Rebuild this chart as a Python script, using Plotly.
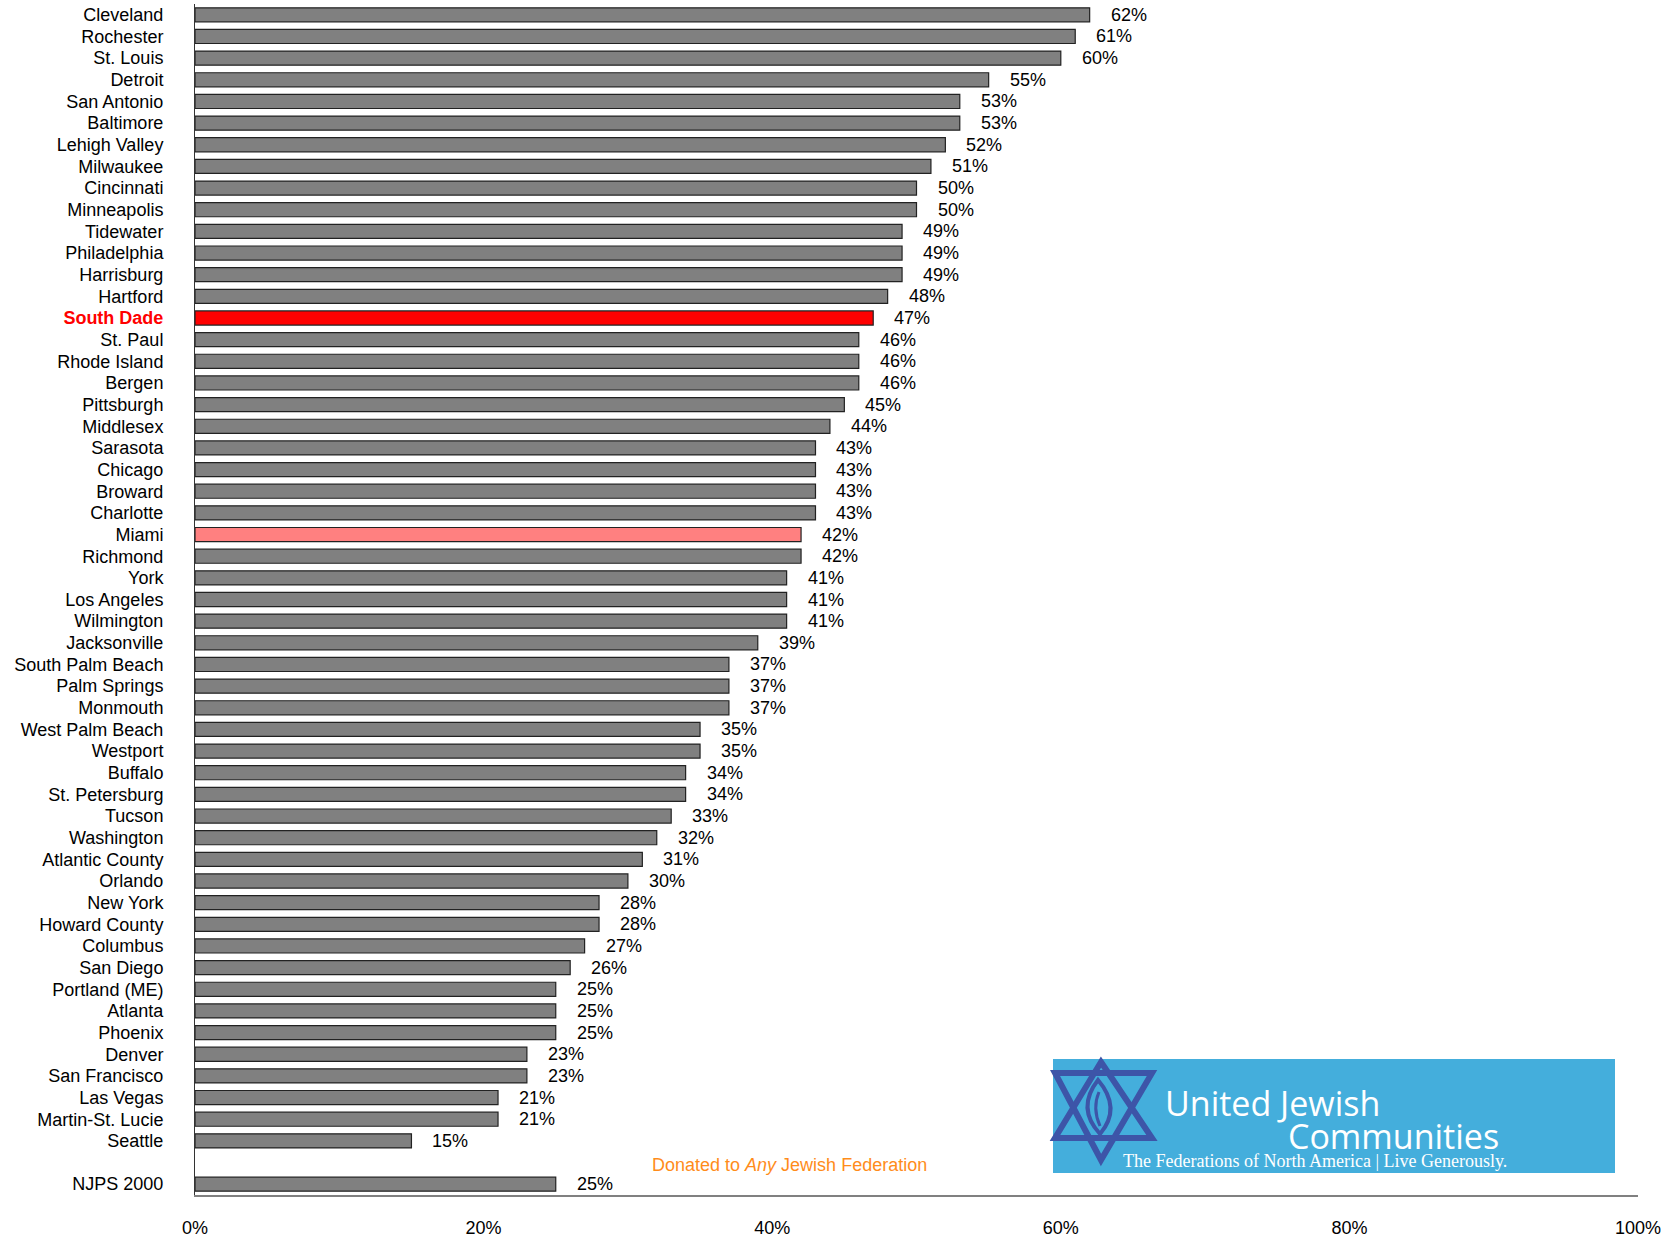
import plotly.graph_objects as go

# ---- data ----
cities = ["Cleveland", "Rochester", "St. Louis", "Detroit", "San Antonio", "Baltimore",
          "Lehigh Valley", "Milwaukee", "Cincinnati", "Minneapolis", "Tidewater",
          "Philadelphia", "Harrisburg", "Hartford", "South Dade", "St. Paul",
          "Rhode Island", "Bergen", "Pittsburgh", "Middlesex", "Sarasota", "Chicago",
          "Broward", "Charlotte", "Miami", "Richmond", "York", "Los Angeles",
          "Wilmington", "Jacksonville", "South Palm Beach", "Palm Springs", "Monmouth",
          "West Palm Beach", "Westport", "Buffalo", "St. Petersburg", "Tucson",
          "Washington", "Atlantic County", "Orlando", "New York", "Howard County",
          "Columbus", "San Diego", "Portland (ME)", "Atlanta", "Phoenix", "Denver",
          "San Francisco", "Las Vegas", "Martin-St. Lucie", "Seattle", " ", "NJPS 2000"]
values = [62, 61, 60, 55, 53, 53, 52, 51, 50, 50, 49, 49, 49, 48, 47, 46, 46, 46, 45, 44,
          43, 43, 43, 43, 42, 42, 41, 41, 41, 39, 37, 37, 37, 35, 35, 34, 34, 33, 32, 31,
          30, 28, 28, 27, 26, 25, 25, 25, 23, 23, 21, 21, 15, None, 25]
x_ticks = [0, 0.2, 0.4, 0.6, 0.8, 1.0]
x_tick_labels = ["0%", "20%", "40%", "60%", "80%", "100%"]
highlight = {"South Dade": "#FF0000", "Miami": "#FF8080"}

FONT = "Arial, Liberation Sans, sans-serif"

fracs = [None if v is None else v / 100 for v in values]
colors = [highlight.get(c, "#808080") for c in cities]

fig = go.Figure()
fig.add_trace(go.Bar(
    x=fracs, y=cities, orientation="h",
    marker=dict(color=colors, line=dict(color="#222222", width=1.2)),
    width=0.65, hoverinfo="skip",
))

# value labels
for c, v in zip(cities, values):
    if v is None:
        continue
    fig.add_annotation(x=v / 100, y=c, xref="x", yref="y", text=f"{v}%",
                       showarrow=False, xanchor="left", xshift=19,
                       font=dict(family=FONT, size=18, color="#000000"))

ticktext = []
for c in cities:
    if c == "South Dade":
        ticktext.append('<b><span style="color:#FF0000">South Dade</span></b>')
    else:
        ticktext.append(c)

# ---- pixel -> paper helpers for decorative logo ----
L, R, T, B = 195, 1638, 4, 1195
PW, PH = R - L, B - T
def px(x):
    return (x - L) / PW
def py(y):
    return (B - y) / PH

shapes = []
shapes.append(dict(type="rect", xref="paper", yref="paper",
                   x0=px(1053), x1=px(1615), y0=py(1173), y1=py(1059),
                   fillcolor="#44AEDC", line=dict(width=0), layer="above"))
def path(points, close=True):
    s = "M " + " L ".join(f"{px(a):.5f},{py(b):.5f}" for a, b in points)
    return s + (" Z" if close else "")
star_col = "#3D55A8"
shapes.append(dict(type="path", xref="paper", yref="paper",
                   path=path([(1101, 1062), (1152, 1138), (1055, 1138)]),
                   line=dict(color=star_col, width=6), layer="above"))
shapes.append(dict(type="path", xref="paper", yref="paper",
                   path=path([(1055, 1073), (1152, 1073), (1101, 1160)]),
                   line=dict(color=star_col, width=6), layer="above"))
# flame
fl = (f"M {px(1098):.5f},{py(1080):.5f} Q {px(1122):.5f},{py(1108):.5f} {px(1100):.5f},{py(1134):.5f} "
      f"Q {px(1076):.5f},{py(1108):.5f} {px(1098):.5f},{py(1080):.5f} Z")
shapes.append(dict(type="path", xref="paper", yref="paper", path=fl,
                   line=dict(color=star_col, width=4), layer="above"))
fl2 = (f"M {px(1099):.5f},{py(1092):.5f} Q {px(1092):.5f},{py(1108):.5f} {px(1100):.5f},{py(1126):.5f}")
shapes.append(dict(type="path", xref="paper", yref="paper", path=fl2,
                   line=dict(color=star_col, width=3), layer="above"))

fig.add_annotation(xref="paper", yref="paper", x=px(1163), y=py(1103),
                   text="United Jewish", showarrow=False, xanchor="left", yanchor="middle",
                   font=dict(family="Open Sans, sans-serif", size=34, color="white"))
fig.add_annotation(xref="paper", yref="paper", x=px(1286), y=py(1136),
                   text="Communities", showarrow=False, xanchor="left", yanchor="middle",
                   font=dict(family="Open Sans, sans-serif", size=34, color="white"))
fig.add_annotation(xref="paper", yref="paper", x=px(1121), y=py(1161),
                   text="The Federations of North America | Live Generously.", showarrow=False,
                   xanchor="left", yanchor="middle",
                   font=dict(family="Liberation Serif, serif", size=18, color="white"))
fig.add_annotation(xref="paper", yref="paper", x=px(789), y=py(1165),
                   text="Donated to <i>Any</i> Jewish Federation", showarrow=False,
                   xanchor="center", yanchor="middle",
                   font=dict(family=FONT, size=18, color="#FF8C1A"))

fig.update_layout(
    width=1671, height=1238,
    margin=dict(l=L, r=1671 - R, t=T, b=1238 - B, autoexpand=False),
    paper_bgcolor="white", plot_bgcolor="white",
    showlegend=False, bargap=0.35,
    shapes=shapes,
    font=dict(family=FONT, size=18, color="#000000"),
)
fig.update_xaxes(range=[0, 1.0], tickvals=x_ticks, ticktext=x_tick_labels,
                 showgrid=False, zeroline=False, showline=True, linecolor="#808080",
                 linewidth=2, ticks="", ticklabelstandoff=15, automargin=False,
                 tickfont=dict(family=FONT, size=18, color="#000000"), fixedrange=True)
fig.update_yaxes(type="category", categoryorder="array", categoryarray=cities,
                 range=[len(cities) - 0.5, -0.5], tickvals=cities, ticktext=ticktext,
                 showgrid=False, zeroline=False, showline=True, linecolor="#333333",
                 linewidth=1, ticks="", ticklabelstandoff=27, automargin=False,
                 tickfont=dict(family=FONT, size=18, color="#000000"), fixedrange=True)

fig.write_html("out.html", config={"displayModeBar": False},
               post_script="document.body.style.margin='0';document.body.style.padding='0';")
